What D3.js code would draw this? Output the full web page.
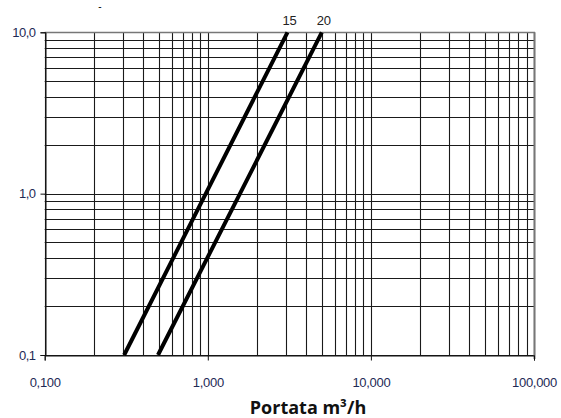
<!DOCTYPE html>
<html><head><meta charset="utf-8">
<script src="https://cdn.jsdelivr.net/npm/d3@7"></script>
<style>body{margin:0;background:#fff}svg{display:block}</style>
</head><body>
<script>
// Data
const seriesNames = ["15", "20"];
const series15 = [[0.307, 0.1], [0.972, 1.0], [3.08, 10]];
const series20 = [[0.495, 0.1], [1.575, 1.0], [5.0, 10]];
const xTicks = [0.1, 1, 10, 100];
const xTickLabels = ["0,100", "1,000", "10,000", "100,000"];
const yTicks = [0.1, 1, 10];
const yTickLabels = ["0,1", "1,0", "10,0"];
const xTitle = "Portata m³/h";

const W = 561, H = 418;
const svg = d3.select("body").append("svg").attr("width", W).attr("height", H);

const x = d3.scaleLog().domain([0.1, 100]).range([44.7, 534]);
const y = d3.scaleLog().domain([0.1, 10]).range([355, 32.3]);

const FONT = "'Liberation Sans', Arial, sans-serif";

// minor grid values
const xGrid = [], yGrid = [];
[0.1, 1, 10].forEach(d => { for (let k = 1; k <= 10; k++) xGrid.push(+(d * k).toPrecision(3)); });
[0.1, 1].forEach(d => { for (let k = 1; k <= 10; k++) yGrid.push(+(d * k).toPrecision(3)); });

const g = svg.append("g");
g.selectAll("line.vg").data(Array.from(new Set(xGrid))).join("line")
  .attr("class", "vg")
  .attr("x1", d => Math.round(x(d)) + 0.5).attr("x2", d => Math.round(x(d)) + 0.5)
  .attr("y1", y(10)).attr("y2", y(0.1))
  .attr("stroke", "#1a1a1a").attr("stroke-width", 1.1);
g.selectAll("line.hg").data(Array.from(new Set(yGrid))).join("line")
  .attr("class", "hg")
  .attr("y1", d => Math.round(y(d)) + 0.5).attr("y2", d => Math.round(y(d)) + 0.5)
  .attr("x1", x(0.1)).attr("x2", x(100))
  .attr("stroke", "#1a1a1a").attr("stroke-width", 1.1);

// frame (right/top gray)
g.append("line").attr("x1", x(100) + 0.5).attr("x2", x(100) + 0.5).attr("y1", y(10)).attr("y2", y(0.1) + 4)
  .attr("stroke", "#777").attr("stroke-width", 2);
g.append("line").attr("x1", x(0.1)).attr("x2", x(100) + 1).attr("y1", Math.round(y(10)) + 0.5).attr("y2", Math.round(y(10)) + 0.5)
  .attr("stroke", "#777").attr("stroke-width", 1.5);

// axes
const xAxis = d3.axisBottom(x).tickValues(xTicks).tickSize(5).tickFormat((d, i) => xTickLabels[i]);
const yAxis = d3.axisLeft(y).tickValues(yTicks).tickSize(5).tickFormat((d, i) => yTickLabels[i]);

const gx = svg.append("g").attr("transform", `translate(0,${Math.round(y(0.1)) + 0.5})`).call(xAxis);
gx.select(".domain").attr("stroke", "#111");
gx.selectAll(".tick line").attr("stroke", "#111");
gx.selectAll(".tick text").attr("y", 22).attr("font-family", FONT)
  .attr("font-size", 13).attr("fill", "#1e2a55").attr("letter-spacing", -0.3);

const gy = svg.append("g").attr("transform", `translate(${Math.round(x(0.1)) + 0.5},0)`).call(yAxis);
gy.select(".domain").attr("stroke", "#111");
gy.selectAll(".tick line").attr("stroke", "#111");
gy.selectAll(".tick text").attr("x", -10).attr("font-family", FONT)
  .attr("font-size", 13).attr("fill", "#1e2a55").attr("letter-spacing", -0.5);

// curves
const line = d3.line().x(d => x(d[0])).y(d => y(d[1]));
[series15, series20].forEach((s, i) => {
  svg.append("path").datum(s).attr("d", line)
    .attr("fill", "none").attr("stroke", "#000").attr("stroke-width", 4);
  const last = s[s.length - 1];
  svg.append("text").attr("x", x(last[0]) + 2).attr("y", 25)
    .attr("text-anchor", "middle").attr("font-family", FONT)
    .attr("font-size", 13).attr("fill", "#222").attr("letter-spacing", -0.3).text(seriesNames[i]);
});

// small mark at top
svg.append("text").attr("x", 100).attr("y", 10).attr("text-anchor", "middle")
  .attr("font-family", FONT).attr("font-size", 10).attr("fill", "#000").text("-");

// x title
svg.append("text").attr("x", 308).attr("y", 414).attr("text-anchor", "middle")
  .attr("font-family", "'Open Sans', sans-serif").attr("font-weight", "bold")
  .attr("font-size", 18).attr("fill", "#111").text(xTitle);
</script>
</body></html>
